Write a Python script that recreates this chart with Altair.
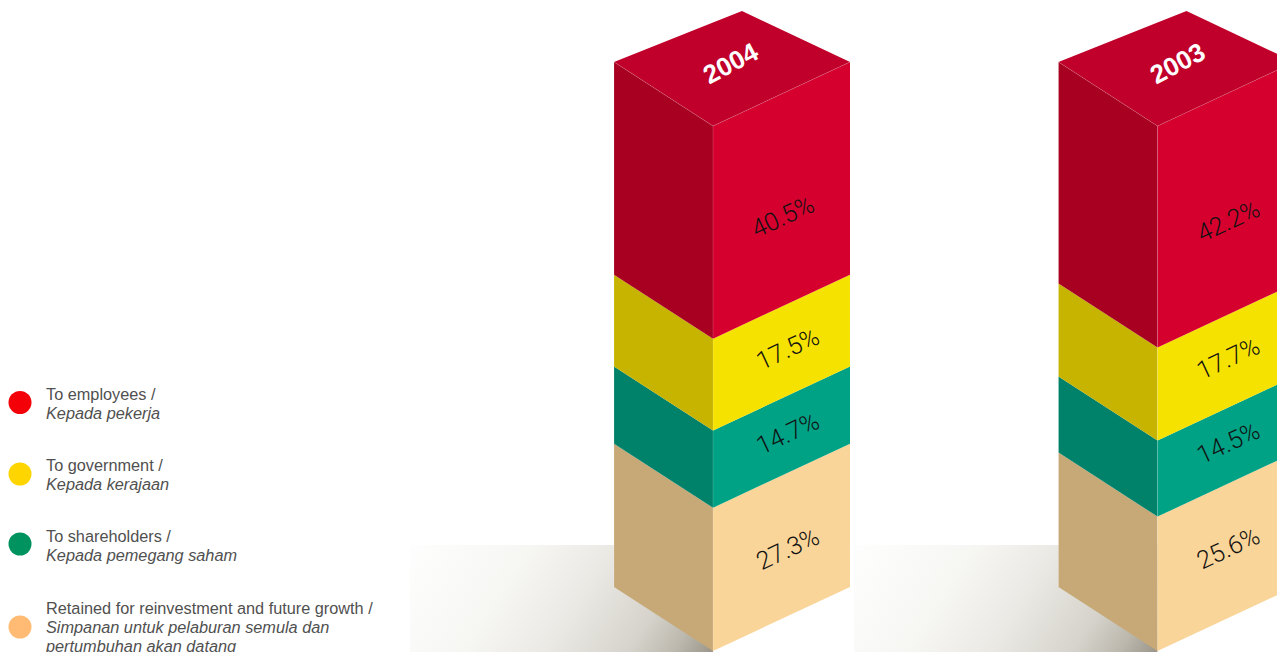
import altair as alt
import pandas as pd

# ---- values
years = ["2004", "2003"]
segments = ["retained", "shareholders", "government", "employees"]
share_2004 = [27.3, 14.7, 17.5, 40.5]
share_2003 = [25.6, 14.5, 17.7, 42.2]
shares = {"2004": share_2004, "2003": share_2003}
legend_en = ["To employees /", "To government /", "To shareholders /",
             "Retained for reinvestment and future growth /"]
legend_ms = [["Kepada pekerja"], ["Kepada kerajaan"], ["Kepada pemegang saham"],
             ["Simpanan untuk pelaburan semula dan", "pertumbuhan akan datang"]]

# ---- styling and layout
face_left = dict(retained="#c7a977", shareholders="#00826a", government="#c7b400", employees="#a80021")
face_right = dict(retained="#fad599", shareholders="#00a285", government="#f6e200", employees="#d6002f")
face_top = "#c0002a"
legend_colors = ["#f40009", "#ffd500", "#00935f", "#ffbb73"]
FONT = "Roboto"
LEGEND_FONT = "Liberation Sans"
M = 8                      # page margin
W, H = 1269, 644
PX_PER_PCT = 5.25
BASE_Y = 587 - M           # pixel row of 0 % at the bar's outer edges
FRONT_DROP = 64 / PX_PER_PCT
APEX_RISE = 51 / PX_PER_PCT
bar_left = {"2004": 614 - M, "2003": 1058.5 - M}
label_dx = {"2004": dict(employees=70), "2003": {}}
label_dy = {"2004": dict(employees=-3.8, retained=-1.0), "2003": dict(employees=-3.8)}
DX_FRONT, DX_APEX, DX_RIGHT = 99, 128, 236

faces, edges, labels, tops = [], [], [], []
for yr in years:
    xl = bar_left[yr]
    xf, xa, xr = xl + DX_FRONT, xl + DX_APEX, xl + DX_RIGHT
    level = 0.0
    for i, (seg, v) in enumerate(zip(segments, shares[yr])):
        lo, hi = level, level + v
        level = hi
        g = f"{yr}-{seg}"
        faces += [
            dict(g=g + "-l", x=xl, y=hi, y2=lo, c=face_left[seg]),
            dict(g=g + "-l", x=xf, y=hi - FRONT_DROP, y2=lo - FRONT_DROP, c=face_left[seg]),
            dict(g=g + "-r", x=xf, y=hi - FRONT_DROP, y2=lo - FRONT_DROP, c=face_right[seg]),
            dict(g=g + "-r", x=xr, y=hi, y2=lo, c=face_right[seg]),
        ]
        dx = label_dx[yr].get(seg, 75 if yr == "2004" else 71)
        labels.append(dict(x=xf + dx, y=(lo + hi) / 2 - FRONT_DROP * 0.45 + label_dy[yr].get(seg, 0), t=f"{v}%"))
    top = level
    faces += [
        dict(g=yr + "-t", x=xl, y=top, y2=top, c=face_top),
        dict(g=yr + "-t", x=xf, y=top + APEX_RISE * DX_FRONT / DX_APEX, y2=top - FRONT_DROP, c=face_top),
        dict(g=yr + "-t", x=xa, y=top + APEX_RISE,
             y2=top - FRONT_DROP + FRONT_DROP * (DX_APEX - DX_FRONT) / (DX_RIGHT - DX_FRONT), c=face_top),
        dict(g=yr + "-t", x=xr, y=top, y2=top, c=face_top),
    ]
    for name, pts in {
        "a": [(xl, top), (xf, top - FRONT_DROP), (xr, top)],
        "b": [(xf, top - FRONT_DROP), (xf, -FRONT_DROP)],
        "c": [(xl, top), (xl, 0)],
    }.items():
        edges += [dict(g=yr + name, x=p[0], y=p[1], o=k) for k, p in enumerate(pts)]
    tops.append(dict(x=xl + 117 if yr == "2004" else xl + 119.5, y=top - 0.4, t=yr))

x_scale = alt.Scale(domain=[0, W], range=[0, W], nice=False, zero=False)
y_scale = alt.Scale(domain=[(BASE_Y - H) / PX_PER_PCT, BASE_Y / PX_PER_PCT], range=[H, 0], nice=False, zero=False)
X = alt.X("x:Q", scale=x_scale, axis=None)
Y = alt.Y("y:Q", scale=y_scale, axis=None)

gradient = alt.LinearGradient(
    gradient="linear", x1=0, y1=0, x2=1.16, y2=0.26,
    stops=[alt.GradientStop(color="#fefefe", offset=0),
           alt.GradientStop(color="#f6f6f3", offset=0.33),
           alt.GradientStop(color="#ebe9e4", offset=0.55),
           alt.GradientStop(color="#d5d3cb", offset=0.775),
           alt.GradientStop(color="#bcb8ae", offset=0.9),
           alt.GradientStop(color="#9c968a", offset=1)])
shadow_df = pd.DataFrame([dict(x=410 - M, x2=713 - M, y=(BASE_Y - (545 - M)) / PX_PER_PCT, y2=(BASE_Y - (652 - M)) / PX_PER_PCT),
                          dict(x=854 - M, x2=1157.5 - M, y=(BASE_Y - (545 - M)) / PX_PER_PCT, y2=(BASE_Y - (652 - M)) / PX_PER_PCT)])
shadow = alt.Chart(shadow_df).mark_rect(color=gradient).encode(x=X, x2="x2:Q", y=Y, y2="y2:Q")

area = alt.Chart(pd.DataFrame(faces)).mark_area(interpolate="linear", line=False, opacity=1).encode(
    x=X, y=Y, y2="y2:Q", color=alt.Color("c:N", scale=None), detail="g:N")
edge = alt.Chart(pd.DataFrame(edges)).mark_line(color="#ffffff", strokeWidth=0.5, opacity=0.3).encode(
    x=X, y=Y, detail="g:N", order="o:Q")
value_text = alt.Chart(pd.DataFrame(labels)).mark_text(
    font=FONT, fontWeight=300, fontSize=25, angle=335, color="#111111", align="center", baseline="middle"
).encode(x=X, y=Y, text="t:N")
year_text = alt.Chart(pd.DataFrame(tops)).mark_text(
    font="Liberation Sans", fontWeight="bold", fontSize=26, angle=332, color="#ffffff", align="center", baseline="middle"
).encode(x=X, y=Y, text="t:N")

# legend: rows are placed by pixel row through the same scales
def row_y(px):
    return (BASE_Y - (px - M)) / PX_PER_PCT

dot_rows = [402.5, 474, 544, 627]
en_rows = [395, 466, 537, 609]
ms_first = [414, 485, 556, 628]
LINE = 18.5
dots = pd.DataFrame([dict(x=20 - M, y=row_y(r), c=c) for r, c in zip(dot_rows, legend_colors)])
en = pd.DataFrame([dict(x=46 - M, y=row_y(r), t=t) for r, t in zip(en_rows, legend_en)])
ms = pd.DataFrame([dict(x=46 - M, y=row_y(r + k * LINE), t=t)
                   for r, lines in zip(ms_first, legend_ms) for k, t in enumerate(lines)])
dot_layer = alt.Chart(dots).mark_point(filled=True, shape="circle", size=529, opacity=1).encode(
    x=X, y=Y, color=alt.Color("c:N", scale=None))
en_layer = alt.Chart(en).mark_text(font=LEGEND_FONT, fontSize=16.3, color="#505050", align="left", baseline="middle").encode(
    x=X, y=Y, text="t:N")
ms_layer = alt.Chart(ms).mark_text(font=LEGEND_FONT, fontStyle="italic", fontSize=16.3, color="#505050", align="left", baseline="middle").encode(
    x=X, y=Y, text="t:N")

chart = alt.layer(shadow, area, edge, value_text, year_text, dot_layer, en_layer, ms_layer).properties(
    width=W, height=H, padding=0, autosize=alt.AutoSizeParams(type="none"), background="#ffffff"
).configure_view(stroke=None)

chart.save("out.html", embed_options={"renderer": "svg", "actions": False})
